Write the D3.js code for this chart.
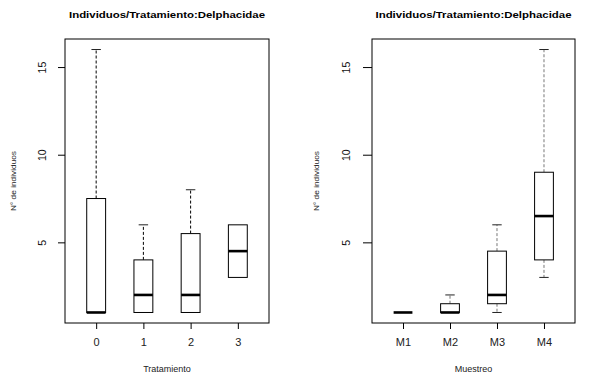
<!DOCTYPE html>
<html>
<head>
<meta charset="utf-8">
<script src="https://cdn.jsdelivr.net/npm/d3@7"></script>
<style>
  body { margin: 0; background: #fff; }
  svg { display: block; font-family: "Liberation Sans", Arial, sans-serif; }
</style>
</head>
<body>
<div id="chart"></div>
<script>
// data

const tratamientos = ["0", "1", "2", "3"];
const tratMin = [1, 1, 1, 3];
const tratQ1 = [1, 1, 1, 3];
const tratMedian = [1, 2, 2, 4.5];
const tratQ3 = [7.5, 4, 5.5, 6];
const tratMax = [16, 6, 8, 6];

const muestreos = ["M1", "M2", "M3", "M4"];
const muesMin = [1, 1, 1, 3];
const muesQ1 = [1, 1, 1.5, 4];
const muesMedian = [1, 1, 2, 6.5];
const muesQ3 = [1, 1.5, 4.5, 9];
const muesMax = [1, 2, 6, 16];

const yTicks = [5, 10, 15];
const title = "Individuos/Tratamiento:Delphacidae";
const yLabel = "N° de individuos";

// config

const width = 592;
const height = 378;
const plotTop = 39, plotBottom = 323;

const svg = d3.select("#chart")
  .append("svg")
  .attr("width", width)
  .attr("height", height);

function toRows(cats, mn, q1, md, q3, mx) {
  return cats.map((c, i) => ({
    cat: c, pos: i + 1,
    min: mn[i], q1: q1[i], med: md[i], q3: q3[i], max: mx[i]
  }));
}

function drawPanel(opts) {
  const rows = toRows(opts.cats, opts.min, opts.q1, opts.med, opts.q3, opts.max);

  // R style: xlim 0.5..n+0.5 with 4% extension
  const x = d3.scaleLinear()
    .domain([0.34, 4.66])
    .range([opts.left, opts.right]);

  const y = d3.scaleLinear()
    .domain([0.4, 16.6])
    .range([plotBottom, plotTop]);

  const g = svg.append("g");
  const boxW = x(1.4) - x(1);
  const capW = boxW / 2;

  // whiskers
  g.selectAll("line.wup")
    .data(rows.filter(d => d.max > d.q3))
    .join("line")
    .attr("x1", d => x(d.pos)).attr("x2", d => x(d.pos))
    .attr("y1", d => y(d.q3)).attr("y2", d => y(d.max))
    .attr("stroke", opts.whiskerColor)
    .attr("stroke-width", 1)
    .attr("stroke-dasharray", "3,2");

  g.selectAll("line.wdown")
    .data(rows.filter(d => d.min < d.q1))
    .join("line")
    .attr("x1", d => x(d.pos)).attr("x2", d => x(d.pos))
    .attr("y1", d => y(d.q1)).attr("y2", d => y(d.min))
    .attr("stroke", opts.whiskerColor)
    .attr("stroke-width", 1)
    .attr("stroke-dasharray", "3,2");

  // caps
  g.selectAll("line.capup")
    .data(rows.filter(d => d.max > d.q3))
    .join("line")
    .attr("x1", d => x(d.pos) - capW / 2).attr("x2", d => x(d.pos) + capW / 2)
    .attr("y1", d => y(d.max)).attr("y2", d => y(d.max))
    .attr("stroke", "#222").attr("stroke-width", 1);

  g.selectAll("line.capdown")
    .data(rows.filter(d => d.min < d.q1))
    .join("line")
    .attr("x1", d => x(d.pos) - capW / 2).attr("x2", d => x(d.pos) + capW / 2)
    .attr("y1", d => y(d.min)).attr("y2", d => y(d.min))
    .attr("stroke", "#222").attr("stroke-width", 1);

  // boxes
  g.selectAll("rect.box")
    .data(rows)
    .join("rect")
    .attr("x", d => x(d.pos) - boxW / 2)
    .attr("y", d => y(d.q3))
    .attr("width", boxW)
    .attr("height", d => y(d.q1) - y(d.q3))
    .attr("fill", "#fff")
    .attr("stroke", "#000")
    .attr("stroke-width", 1);

  // medians
  g.selectAll("line.med")
    .data(rows)
    .join("line")
    .attr("x1", d => x(d.pos) - boxW / 2).attr("x2", d => x(d.pos) + boxW / 2)
    .attr("y1", d => y(d.med)).attr("y2", d => y(d.med))
    .attr("stroke", "#000").attr("stroke-width", 2.6);

  // frame
  g.append("rect")
    .attr("x", opts.left).attr("y", plotTop)
    .attr("width", opts.right - opts.left).attr("height", plotBottom - plotTop)
    .attr("fill", "none").attr("stroke", "#000").attr("stroke-width", 1);

  // axes
  const yAxis = d3.axisLeft(y).tickValues(yTicks).tickSize(opts.yTick).tickFormat(d3.format("d"));
  g.append("g")
    .attr("transform", `translate(${opts.left},0)`)
    .call(yAxis)
    .call(a => a.select(".domain").remove())
    .call(a => a.selectAll(".tick text")
      .attr("x", 0).attr("dy", 0)
      .attr("text-anchor", "middle")
      .attr("transform", `translate(${opts.yTextOff},0) rotate(-90)`)
      .attr("font-size", 10.5)
      .attr("font-family", "Liberation Sans, Arial, sans-serif")
      .attr("fill", "#111"));

  const xAxis = d3.axisBottom(x).tickValues(rows.map(d => d.pos))
    .tickFormat((d, i) => opts.cats[i]).tickSize(6);
  g.append("g")
    .attr("transform", `translate(0,${plotBottom})`)
    .call(xAxis)
    .call(a => a.select(".domain").remove())
    .call(a => a.selectAll(".tick text")
      .attr("y", 23).attr("dy", 0)
      .attr("font-size", 11)
      .attr("font-family", "Liberation Sans, Arial, sans-serif")
      .attr("fill", "#222"));

  const cx = (opts.left + opts.right) / 2;

  // titles and labels
  svg.append("text")
    .attr("x", cx).attr("y", 18)
    .attr("text-anchor", "middle")
    .attr("font-size", 9.5).attr("font-weight", "bold")
    .attr("textLength", 196).attr("lengthAdjust", "spacingAndGlyphs")
    .text(title);

  svg.append("text")
    .attr("x", cx).attr("y", 372)
    .attr("text-anchor", "middle")
    .attr("font-size", 9).attr("fill", "#222")
    .text(opts.xLabel);

  svg.append("text")
    .attr("transform", `translate(${opts.yLabelX},${(plotTop + plotBottom) / 2}) rotate(-90)`)
    .attr("text-anchor", "middle")
    .attr("font-size", 8).attr("fill", "#222")
    .attr("textLength", 60).attr("lengthAdjust", "spacingAndGlyphs")
    .text(yLabel);
}

drawPanel({
  cats: tratamientos, min: tratMin, q1: tratQ1, med: tratMedian, q3: tratQ3, max: tratMax,
  left: 65, right: 269, yTick: 7, yTextOff: -19, yLabelX: 16,
  xLabel: "Tratamiento", whiskerColor: "#000"
});

drawPanel({
  cats: muestreos, min: muesMin, q1: muesQ1, med: muesMedian, q3: muesQ3, max: muesMax,
  left: 372, right: 575, yTick: 9, yTextOff: -22, yLabelX: 319,
  xLabel: "Muestreo", whiskerColor: "#777"
});
</script>
</body>
</html>
